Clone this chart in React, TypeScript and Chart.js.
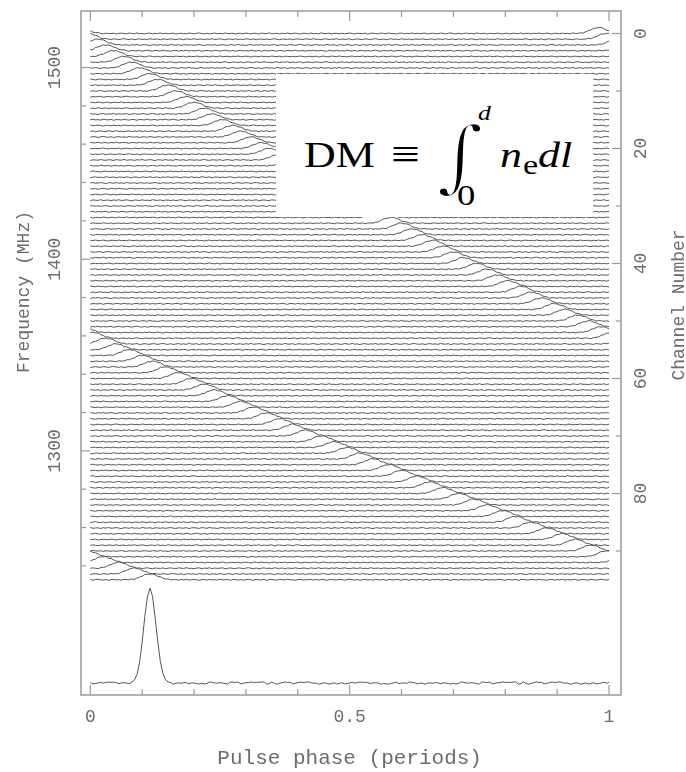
import React, { useEffect, useRef } from "react";
import { Chart, registerables } from "chart.js";

Chart.register(...registerables);

// ---------------- data ----------------
// pulse peak phase (periods) of each of the 96 frequency channels (channel 0 = top)
const pulsePhase = [
  0.980, 0.997, 0.013, 0.030, 0.046, 0.063, 0.080, 0.097, 0.114, 0.132,
  0.149, 0.166, 0.184, 0.202, 0.219, 0.237, 0.255, 0.273, 0.292, 0.310,
  0.328, 0.347, 0.365, 0.384, 0.403, 0.422, 0.441, 0.460, 0.480, 0.499,
  0.519, 0.538, 0.558, 0.578, 0.598, 0.618, 0.639, 0.660, 0.680, 0.701,
  0.722, 0.743, 0.764, 0.785, 0.807, 0.828, 0.850, 0.872, 0.894, 0.916,
  0.938, 0.961, 0.984, 0.006, 0.029, 0.052, 0.075, 0.099, 0.122, 0.146,
  0.169, 0.194, 0.218, 0.242, 0.267, 0.291, 0.316, 0.341, 0.366, 0.392,
  0.417, 0.443, 0.469, 0.495, 0.521, 0.547, 0.574, 0.601, 0.628, 0.655,
  0.682, 0.710, 0.738, 0.765, 0.793, 0.821, 0.850, 0.879, 0.908, 0.937,
  0.966, 0.996, 0.026, 0.056, 0.086, 0.116,
];

// single-channel pulse shape (height in channel spacings), one value per 0.005 of phase
const channelPulseShape = [
  0.01, 0.03, 0.07, 0.15, 0.28, 0.46, 0.66, 0.85, 0.98, 1.02, 0.98, 0.85, 0.66, 0.46,
  0.28, 0.15, 0.07, 0.03, 0.01,
];

// summed (dedispersed) profile around its peak, fraction of peak, one value per 0.005
const profileShape = [
  0.0, 0.005, 0.015, 0.04, 0.1, 0.22, 0.43, 0.69, 0.91, 1.0, 0.91, 0.69, 0.43, 0.22,
  0.1, 0.04, 0.015, 0.005, 0.0,
];
const profilePeakPhase = 0.115;

// baseline wiggle sequence
const noiseSeq = [
  0.3, -0.5, 0.1, 0.8, -0.2, -0.7, 0.4, 0.0, -0.3, 0.6,
  -0.9, 0.2, 0.5, -0.1, -0.6, 0.7, 0.1, -0.4, 0.9, -0.2,
  0.0, -0.8, 0.3, 0.6, -0.5, 0.2, -0.1, 0.8, -0.6, 0.4,
  -0.3, 0.1, 0.7, -0.9, 0.0, 0.5, -0.2, -0.4, 0.6, 0.2,
  -0.7, 0.3, 0.9, -0.1, -0.5, 0.4, -0.8, 0.1, 0.6, -0.3,
  0.2, -0.6, 0.8, 0.0, -0.2, 0.5, -0.9, 0.3, 0.1, -0.4,
  0.7, -0.1, -0.6, 0.4, 0.2, -0.8, 0.6, 0.0, -0.3, 0.9,
  -0.5, 0.1, 0.3, -0.7, 0.5, -0.2, 0.8, -0.4, 0.0, 0.6,
  -0.1, -0.9, 0.4, 0.2, -0.5, 0.7, -0.3, 0.1, -0.6, 0.9,
  0.0, -0.2, 0.5, -0.8, 0.3, 0.2, -0.4,
];

// axes
const phaseTicks = [0, 0.1, 0.2, 0.3, 0.4, 0.5, 0.6, 0.7, 0.8, 0.9, 1];
const phaseLabels: Record<string, string> = { "0": "0", "0.5": "0.5", "1": "1" };
const freqTicks = [1240, 1260, 1280, 1300, 1320, 1340, 1360, 1380, 1400, 1420, 1440, 1460, 1480, 1500];
const freqLabels = [1300, 1400, 1500];
const channelTicks = [0, 10, 20, 30, 40, 50, 60, 70, 80, 90];
const channelLabels = [0, 20, 40, 60, 80];
const topChannelFreq = 1517.75; // MHz
const channelWidth = 3; // MHz

const xTitle = "Pulse phase (periods)";
const leftTitle = "Frequency (MHz)";
const rightTitle = "Channel Number";

// ---------------- styling ----------------
const NBINS = 200;
const BIN = 1 / NBINS;
const TRACE_NOISE = 0.11;
const PROFILE_NOISE = 0.014;
const TRACE_COLOR = "#555555";
const FRAME_COLOR = "#9a9a9a";
const TEXT_COLOR = "#6c6c6c";
const MONO = "'Liberation Mono', 'DejaVu Sans Mono', monospace";
const SERIF = "'Liberation Serif', 'DejaVu Serif', serif";

const CH_MIN = -3.91;
const CH_MAX = 115.04;

function wrapOffset(i: number, peak: number) {
  let k = (((i - peak) % NBINS) + NBINS) % NBINS;
  if (k >= NBINS / 2) k -= NBINS;
  return k;
}

function buildTrace(c: number) {
  const peak = Math.round(pulsePhase[c] / BIN);
  const half = (channelPulseShape.length - 1) / 2;
  const pts: { x: number; y: number }[] = [];
  for (let i = 0; i <= NBINS; i++) {
    const k = wrapOffset(i, peak);
    const bump = Math.abs(k) <= half ? channelPulseShape[k + half] : 0;
    const n = noiseSeq[(i + 29 * c) % noiseSeq.length] * TRACE_NOISE;
    pts.push({ x: i * BIN, y: c - bump - n });
  }
  return pts;
}

function buildProfile() {
  const peak = Math.round(profilePeakPhase / BIN);
  const half = (profileShape.length - 1) / 2;
  const pts: { x: number; y: number }[] = [];
  for (let i = 0; i <= NBINS; i++) {
    const k = wrapOffset(i, peak);
    const v = Math.abs(k) <= half ? profileShape[k + half] : 0;
    const n = noiseSeq[(i * 3 + 11) % noiseSeq.length] * PROFILE_NOISE;
    pts.push({ x: i * BIN, y: v + n });
  }
  return pts;
}

const framePlugin = {
  id: "frameAndTitles",
  afterDraw(chart: any) {
    const { ctx, chartArea: a, scales } = chart;
    ctx.save();
    ctx.strokeStyle = FRAME_COLOR;
    ctx.lineWidth = 1.5;
    ctx.strokeRect(a.left, a.top, a.right - a.left, a.bottom - a.top);
    ctx.lineWidth = 1.2;
    const seg = (x1: number, y1: number, x2: number, y2: number) => {
      ctx.beginPath();
      ctx.moveTo(x1, y1);
      ctx.lineTo(x2, y2);
      ctx.stroke();
    };
    const xs = scales.x;
    xs.ticks.forEach((t: any) => {
      const px = xs.getPixelForValue(t.value);
      const len = phaseLabels[String(t.value)] ? 10 : 6;
      seg(px, a.bottom, px, a.bottom - len);
      seg(px, a.top, px, a.top + len);
    });
    const yf = scales.yf;
    yf.ticks.forEach((t: any) => {
      const py = yf.getPixelForValue(t.value);
      const len = freqLabels.includes(t.value) ? 9 : 5;
      seg(a.left, py, a.left + len, py);
    });
    const yc = scales.yc;
    yc.ticks.forEach((t: any) => {
      const py = yc.getPixelForValue(t.value);
      const len = channelLabels.includes(t.value) ? 9 : 5;
      seg(a.right, py, a.right - len, py);
    });

    ctx.fillStyle = TEXT_COLOR;
    ctx.textAlign = "center";
    ctx.textBaseline = "alphabetic";
    ctx.font = `21px ${MONO}`;
    ctx.fillText(xTitle, (xs.getPixelForValue(0) + xs.getPixelForValue(1)) / 2, 764);
    ctx.font = `18px ${MONO}`;
    ctx.save();
    ctx.translate(29, 292);
    ctx.rotate(-Math.PI / 2);
    ctx.fillText(leftTitle, 0, 0);
    ctx.restore();
    ctx.save();
    ctx.translate(684, 305);
    ctx.rotate(-Math.PI / 2);
    ctx.fillText(rightTitle, 0, 0);
    ctx.restore();
    ctx.restore();
  },
};

function Piece(props: {
  left: number;
  base: number;
  size: number;
  italic?: boolean;
  sx?: number;
  sy?: number;
  family?: string;
  thin?: number;
  text: string;
}) {
  const { left, base, size, italic, sx = 1.22, sy = 1, family = SERIF, thin = 0, text } = props;
  const style: any = {
    position: "absolute",
    left,
    top: base - 0.8375 * size,
    fontSize: size,
    lineHeight: 1,
    fontFamily: family,
    fontStyle: italic ? "italic" : "normal",
    whiteSpace: "nowrap",
    color: "#000",
    transform: `scale(${sx}, ${sy})`,
    transformOrigin: "0 0",
  };
  if (thin > 0) style.WebkitTextStroke = `${thin}px #ffffff`;
  return <span style={style}>{text}</span>;
}

export default function App() {
  const ref = useRef<HTMLCanvasElement>(null);

  useEffect(() => {
    const datasets: any[] = pulsePhase.map((_, c) => ({
      data: buildTrace(c),
      yAxisID: "yc",
      borderColor: TRACE_COLOR,
      borderWidth: 1,
      pointRadius: 0,
      tension: 0,
      fill: false,
    }));
    datasets.push({
      data: buildProfile(),
      yAxisID: "yp",
      borderColor: TRACE_COLOR,
      borderWidth: 1,
      pointRadius: 0,
      tension: 0,
      fill: false,
    });

    const tickFont = { family: MONO, size: 18 };
    const noPadY = (w: number) => (s: any) => {
      s.width = w;
      s.paddingTop = 0;
      s.paddingBottom = 0;
    };
    const chart = new Chart(ref.current as HTMLCanvasElement, {
      type: "line",
      data: { datasets },
      options: {
        animation: false,
        responsive: false,
        events: [],
        layout: { padding: { top: 11, left: 0, right: 0, bottom: 0 } },
        plugins: { legend: { display: false }, tooltip: { enabled: false } },
        scales: {
          x: {
            type: "linear",
            position: "bottom",
            min: -0.0179,
            max: 1.0231,
            afterBuildTicks: (s: any) => {
              s.ticks = phaseTicks.map((v) => ({ value: v }));
            },
            afterFit: (s: any) => {
              s.height = 77;
              s.paddingLeft = 0;
              s.paddingRight = 0;
            },
            grid: { display: false, drawTicks: false },
            border: { display: false },
            ticks: {
              autoSkip: false,
              minRotation: 0,
              maxRotation: 0,
              padding: 11,
              color: TEXT_COLOR,
              font: tickFont,
              callback: (v: any) => phaseLabels[String(v)] ?? "",
            },
          },
          yf: {
            type: "linear",
            position: "left",
            min: topChannelFreq - channelWidth * CH_MAX,
            max: topChannelFreq - channelWidth * CH_MIN,
            afterBuildTicks: (s: any) => {
              s.ticks = freqTicks.map((v) => ({ value: v }));
            },
            afterFit: noPadY(81),
            grid: { display: false, drawTicks: false },
            border: { display: false },
            ticks: {
              autoSkip: false,
              minRotation: 90,
              maxRotation: 90,
              crossAlign: "center",
              padding: 4,
              color: TEXT_COLOR,
              font: tickFont,
              callback: (v: any) => (freqLabels.includes(v) ? String(v) : ""),
            },
          },
          yc: {
            type: "linear",
            position: "right",
            reverse: true,
            min: CH_MIN,
            max: CH_MAX,
            afterBuildTicks: (s: any) => {
              s.ticks = channelTicks.map((v) => ({ value: v }));
            },
            afterFit: noPadY(65),
            grid: { display: false, drawTicks: false },
            border: { display: false },
            ticks: {
              autoSkip: false,
              minRotation: 90,
              maxRotation: 90,
              crossAlign: "center",
              padding: 9,
              color: TEXT_COLOR,
              font: tickFont,
              callback: (v: any) => (channelLabels.includes(v) ? String(v) : ""),
            },
          },
          yp: {
            type: "linear",
            display: false,
            min: -0.126,
            max: 7.074,
          },
        },
      } as any,
      plugins: [framePlugin],
    });
    return () => chart.destroy();
  }, []);

  return (
    <div
      style={{
        position: "absolute",
        left: 0,
        top: 0,
        width: 686,
        height: 772,
        background: "#fff",
        overflow: "hidden",
      }}
    >
      <canvas
        ref={ref}
        width={686}
        height={772}
        style={{ position: "absolute", left: 0, top: 0, width: 686, height: 772 }}
      />
      <div
        style={{
          position: "absolute",
          left: 276,
          top: 74,
          width: 317,
          height: 143,
          background: "#fff",
        }}
      >
        <Piece left={28} base={93.3} size={36} text="DM" />
        <Piece left={115} base={94} size={42} text="≡" />
        <Piece
          left={160}
          base={108.5}
          size={80}
          sx={1.15}
          thin={3}
          family="'DejaVu Serif', serif"
          text="∫"
        />
        <Piece left={202} base={47} size={21} italic text="d" />
        <Piece left={181.3} base={131.3} size={30} text="0" />
        <Piece left={224} base={93.3} size={36} italic text="n" />
        <Piece left={246.6} base={100.5} size={28} text="e" />
        <Piece left={262} base={93.3} size={36} italic text="dl" />
      </div>
    </div>
  );
}
